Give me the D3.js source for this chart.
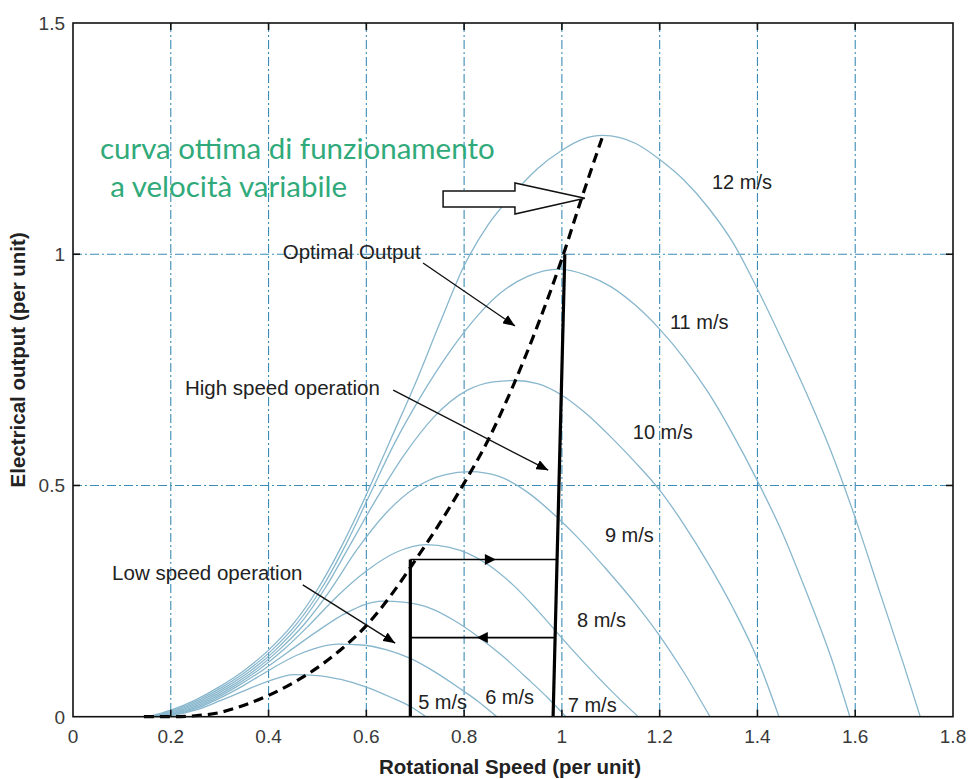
<!DOCTYPE html>
<html>
<head>
<meta charset="utf-8">
<script src="https://cdn.jsdelivr.net/npm/d3@7"></script>
<style>
  body { margin: 0; background: #fff; }
  svg { display: block; }
</style>
</head>
<body>
<svg id="chart" width="976" height="779"></svg>
<script>
// ---- axis ticks ----
const xTicks = [0, 0.2, 0.4, 0.6, 0.8, 1, 1.2, 1.4, 1.6, 1.8];
const xTickLabels = ["0", "0.2", "0.4", "0.6", "0.8", "1", "1.2", "1.4", "1.6", "1.8"];
const yTicks = [0, 0.5, 1, 1.5];
const yTickLabels = ["0", "0.5", "1", "1.5"];

// ---- turbine power curves: [rotational speed pu, electrical output pu] ----
const windSpeeds = [5, 6, 7, 8, 9, 10, 11, 12];
const speedLabels = ["5 m/s", "6 m/s", "7 m/s", "8 m/s", "9 m/s", "10 m/s", "11 m/s", "12 m/s"];

const power5 = [[0.19,0],[0.25,0.014],[0.3,0.034],[0.35,0.056],[0.4,0.077],[0.452,0.091],[0.5,0.089],[0.55,0.08],[0.6,0.064],[0.65,0.042],[0.69,0.022],[0.722,0]];
const power6 = [[0.185,0],[0.242,0.014],[0.292,0.036],[0.345,0.065],[0.4,0.1],[0.46,0.134],[0.542,0.157],[0.59,0.155],[0.64,0.145],[0.69,0.126],[0.74,0.097],[0.79,0.062],[0.83,0.032],[0.867,0]];
const power7 = [[0.18,0],[0.235,0.014],[0.285,0.036],[0.335,0.065],[0.387,0.1],[0.44,0.14],[0.5,0.185],[0.56,0.225],[0.633,0.25],[0.68,0.247],[0.73,0.235],[0.78,0.208],[0.83,0.172],[0.88,0.13],[0.93,0.082],[0.97,0.042],[1.008,0]];
const power8 = [[0.175,0],[0.228,0.014],[0.278,0.036],[0.328,0.065],[0.378,0.1],[0.43,0.144],[0.485,0.2],[0.54,0.26],[0.6,0.315],[0.66,0.355],[0.723,0.372],[0.77,0.366],[0.81,0.352],[0.85,0.328],[0.9,0.285],[0.95,0.23],[1.0,0.17],[1.05,0.112],[1.1,0.057],[1.156,0]];
const power9 = [[0.17,0],[0.221,0.014],[0.271,0.036],[0.321,0.065],[0.371,0.1],[0.421,0.144],[0.473,0.2],[0.527,0.275],[0.58,0.36],[0.64,0.44],[0.7,0.495],[0.76,0.523],[0.813,0.53],[0.87,0.52],[0.93,0.485],[0.976,0.445],[1.03,0.39],[1.09,0.32],[1.15,0.245],[1.2,0.175],[1.25,0.095],[1.303,0]];
const power10 = [[0.165,0],[0.214,0.014],[0.264,0.036],[0.314,0.065],[0.364,0.1],[0.414,0.144],[0.464,0.2],[0.514,0.275],[0.566,0.37],[0.62,0.47],[0.68,0.57],[0.74,0.65],[0.805,0.705],[0.86,0.724],[0.903,0.727],[0.95,0.72],[1.0,0.695],[1.05,0.655],[1.1,0.605],[1.15,0.55],[1.2,0.49],[1.25,0.415],[1.3,0.33],[1.35,0.235],[1.4,0.125],[1.444,0]];
const power11 = [[0.16,0],[0.207,0.014],[0.257,0.036],[0.307,0.065],[0.357,0.1],[0.407,0.144],[0.457,0.2],[0.507,0.275],[0.557,0.37],[0.607,0.48],[0.657,0.59],[0.71,0.69],[0.771,0.79],[0.83,0.87],[0.873,0.915],[0.93,0.952],[0.994,0.968],[1.05,0.955],[1.1,0.93],[1.15,0.89],[1.2,0.838],[1.25,0.775],[1.3,0.7],[1.35,0.61],[1.4,0.51],[1.45,0.4],[1.5,0.27],[1.55,0.13],[1.589,0]];
const power12 = [[0.155,0],[0.2,0.014],[0.25,0.036],[0.3,0.065],[0.35,0.1],[0.4,0.144],[0.45,0.2],[0.5,0.275],[0.55,0.37],[0.6,0.48],[0.65,0.6],[0.7,0.72],[0.75,0.85],[0.8,0.975],[0.85,1.065],[0.9,1.13],[0.95,1.185],[1.0,1.225],[1.04,1.248],[1.084,1.257],[1.15,1.24],[1.2,1.205],[1.25,1.16],[1.3,1.1],[1.35,1.025],[1.4,0.925],[1.45,0.815],[1.5,0.7],[1.55,0.575],[1.6,0.43],[1.65,0.27],[1.7,0.11],[1.733,0]];
const powerCurves = [power5, power6, power7, power8, power9, power10, power11, power12];

// label anchor (left, middle) for each wind speed, in data units
const labelX = [0.706, 0.843, 1.012, 1.031, 1.088, 1.145, 1.221, 1.307];
const labelY = [0.032, 0.043, 0.025, 0.209, 0.393, 0.616, 0.853, 1.156];

// ---- optimal output (maximum power point) curve ----
const optimalOutput = [[0.145,0],[0.2,0],[0.25,0.002],[0.3,0.009],[0.35,0.025],[0.4,0.046],[0.45,0.073],[0.5,0.106],[0.55,0.147],[0.6,0.197],[0.65,0.262],[0.7,0.338],[0.75,0.418],[0.8,0.505],[0.85,0.6],[0.9,0.715],[0.95,0.845],[1.0,0.99],[1.04,1.12],[1.084,1.257]];

// ---- operating limits ----
const lowSpeedLimit = [[0.69, 0], [0.69, 0.34]];
const highSpeedLimit = [[0.982, 0], [1.006, 1.0]];
const upperTransfer = [[0.69, 0.34], [0.99, 0.34]];
const lowerTransfer = [[0.69, 0.171], [0.986, 0.171]];

// ---- layout ----
const svg = d3.select("#chart");
const plotLeft = 73, plotRight = 953, plotTop = 23, plotBottom = 716.7;

const x = d3.scaleLinear().domain([0, 1.8]).range([plotLeft, plotRight]);
const y = d3.scaleLinear().domain([0, 1.5]).range([plotBottom, plotTop]);

const gridColor = "#3b8db5";
const curveColor = "#88b7cd";
const labelFont = "'Liberation Sans', Arial, Helvetica, sans-serif";

// grid (dash-dot)
const grid = svg.append("g");
grid.selectAll("line.vx")
  .data(xTicks.filter(d => d > 0 && d < 1.8))
  .join("line")
  .attr("x1", d => x(d)).attr("x2", d => x(d))
  .attr("y1", plotTop).attr("y2", plotBottom)
  .attr("stroke", gridColor).attr("stroke-width", 1.1)
  .attr("stroke-dasharray", "9,3,2,3");
grid.selectAll("line.hy")
  .data(yTicks.filter(d => d > 0 && d < 1.5))
  .join("line")
  .attr("x1", plotLeft).attr("x2", plotRight)
  .attr("y1", d => y(d)).attr("y2", d => y(d))
  .attr("stroke", gridColor).attr("stroke-width", 1.1)
  .attr("stroke-dasharray", "9,3,2,3");

// wind-speed power curves
const line = d3.line()
  .x(d => x(d[0]))
  .y(d => y(d[1]))
  .curve(d3.curveMonotoneX);

svg.append("g")
  .selectAll("path")
  .data(powerCurves)
  .join("path")
  .attr("d", line)
  .attr("fill", "none")
  .attr("stroke", curveColor)
  .attr("stroke-width", 1.3);

// optimal output curve
svg.append("path")
  .attr("d", line(optimalOutput))
  .attr("fill", "none")
  .attr("stroke", "#000")
  .attr("stroke-width", 3.2)
  .attr("stroke-dasharray", "10,6");

// operating limits
const straight = d3.line().x(d => x(d[0])).y(d => y(d[1]));
[lowSpeedLimit, highSpeedLimit].forEach(seg => {
  svg.append("path").attr("d", straight(seg))
    .attr("fill", "none").attr("stroke", "#000").attr("stroke-width", 3.2);
});
[upperTransfer, lowerTransfer].forEach(seg => {
  svg.append("path").attr("d", straight(seg))
    .attr("fill", "none").attr("stroke", "#000").attr("stroke-width", 1.6);
});

// direction heads on the transfer lines
function headAt(xv, yv, dir) {
  const px = x(xv), py = y(yv), L = 11, H = 5.5;
  return `M${px},${py} L${px - dir * L},${py - H} L${px - dir * L},${py + H} Z`;
}
svg.append("path").attr("d", headAt(0.865, 0.34, 1)).attr("fill", "#000");
svg.append("path").attr("d", headAt(0.826, 0.171, -1)).attr("fill", "#000");

// axes frame and ticks
svg.append("rect")
  .attr("x", plotLeft).attr("y", plotTop)
  .attr("width", plotRight - plotLeft).attr("height", plotBottom - plotTop)
  .attr("fill", "none").attr("stroke", "#111").attr("stroke-width", 1.6);

const ticks = svg.append("g").attr("stroke", "#111").attr("stroke-width", 1.6);
xTicks.filter(d => d > 0 && d < 1.8).forEach(d => {
  ticks.append("line").attr("x1", x(d)).attr("x2", x(d)).attr("y1", plotBottom).attr("y2", plotBottom - 7);
  ticks.append("line").attr("x1", x(d)).attr("x2", x(d)).attr("y1", plotTop).attr("y2", plotTop + 7);
});
yTicks.filter(d => d > 0 && d < 1.5).forEach(d => {
  ticks.append("line").attr("x1", plotLeft).attr("x2", plotLeft + 7).attr("y1", y(d)).attr("y2", y(d));
  ticks.append("line").attr("x1", plotRight).attr("x2", plotRight - 7).attr("y1", y(d)).attr("y2", y(d));
});

// tick labels
svg.append("g").selectAll("text")
  .data(xTicks)
  .join("text")
  .attr("x", d => x(d)).attr("y", plotBottom + 26)
  .attr("text-anchor", "middle")
  .attr("font-family", labelFont).attr("font-size", 19).attr("fill", "#3a3a3a")
  .text((d, i) => xTickLabels[i]);

svg.append("g").selectAll("text")
  .data(yTicks)
  .join("text")
  .attr("x", plotLeft - 8).attr("y", d => y(d) + 7)
  .attr("text-anchor", "end")
  .attr("font-family", labelFont).attr("font-size", 19).attr("fill", "#3a3a3a")
  .text((d, i) => yTickLabels[i]);

// axis titles
svg.append("text")
  .attr("x", (plotLeft + plotRight) / 2 - 3).attr("y", 774)
  .attr("text-anchor", "middle")
  .attr("font-family", labelFont).attr("font-size", 20.5).attr("font-weight", "bold").attr("fill", "#222")
  .text("Rotational Speed (per unit)");

svg.append("text")
  .attr("transform", `translate(25,${(plotTop + plotBottom) / 2 - 10}) rotate(-90)`)
  .attr("text-anchor", "middle")
  .attr("font-family", labelFont).attr("font-size", 20.5).attr("font-weight", "bold").attr("fill", "#222")
  .text("Electrical output (per unit)");

// wind-speed labels
svg.append("g").selectAll("text")
  .data(speedLabels)
  .join("text")
  .attr("x", (d, i) => x(labelX[i]))
  .attr("y", (d, i) => y(labelY[i]))
  .attr("dy", "0.36em")
  .attr("font-family", labelFont).attr("font-size", 20).attr("fill", "#222")
  .text(d => d);

// annotation arrows
svg.append("defs").append("marker")
  .attr("id", "head")
  .attr("viewBox", "0 0 12 10")
  .attr("refX", 12).attr("refY", 5)
  .attr("markerWidth", 12).attr("markerHeight", 10)
  .attr("markerUnits", "userSpaceOnUse")
  .attr("orient", "auto")
  .append("path").attr("d", "M0,0 L12,5 L0,10 Z").attr("fill", "#000");

const notes = [
  { text: "Optimal Output", tx: 0.429, ty: 1.005, from: [0.716, 0.981], to: [0.904, 0.845] },
  { text: "High speed operation", tx: 0.229, ty: 0.711, from: [0.655, 0.706], to: [0.972, 0.533] },
  { text: "Low speed operation", tx: 0.08, ty: 0.311, from: [0.47, 0.285], to: [0.659, 0.159] }
];
notes.forEach(n => {
  svg.append("text")
    .attr("x", x(n.tx)).attr("y", y(n.ty)).attr("dy", "0.36em")
    .attr("font-family", labelFont).attr("font-size", 20.5).attr("fill", "#222")
    .text(n.text);
  svg.append("line")
    .attr("x1", x(n.from[0])).attr("y1", y(n.from[1]))
    .attr("x2", x(n.to[0])).attr("y2", y(n.to[1]))
    .attr("stroke", "#111").attr("stroke-width", 1.4)
    .attr("marker-end", "url(#head)");
});

// hollow block arrow pointing at the optimal curve
const blockArrow = [[0.757, 1.137], [0.904, 1.137], [0.904, 1.154], [1.047, 1.121], [0.904, 1.087], [0.904, 1.102], [0.757, 1.102]];
svg.append("path")
  .attr("d", d3.line().x(d => x(d[0])).y(d => y(d[1]))(blockArrow) + "Z")
  .attr("fill", "#fff").attr("stroke", "#111").attr("stroke-width", 1.5);

// caption in Italian
const caption = svg.append("text")
  .attr("font-family", "Lato, 'Open Sans', sans-serif")
  .attr("font-size", 29.5).attr("fill", "#30aa7a");
caption.append("tspan").attr("x", x(0.055)).attr("y", y(1.205)).text("curva ottima di funzionamento");
caption.append("tspan").attr("x", x(0.076)).attr("y", y(1.124)).text("a velocità variabile");
</script>
</body>
</html>
